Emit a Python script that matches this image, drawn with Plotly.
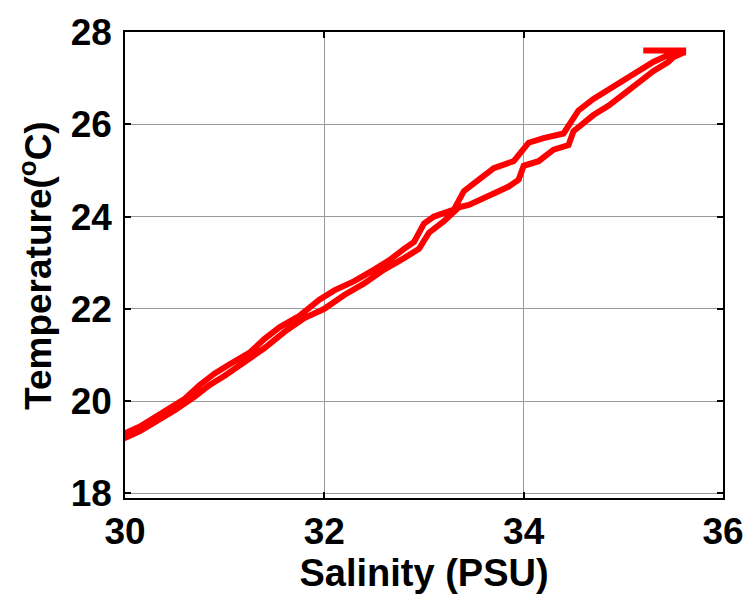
import plotly.graph_objects as go

# Upper (left) branch, bottom -> top
sal_up = [30.00, 30.15, 30.30, 30.45, 30.60, 30.75, 30.90, 31.05, 31.25, 31.40, 31.55, 31.75,
          31.95, 32.10, 32.30, 32.50, 32.65, 32.80, 32.90, 33.00, 33.10, 33.30, 33.40, 33.55,
          33.70, 33.90, 34.05, 34.20, 34.40, 34.55, 34.70, 34.85, 35.00, 35.15, 35.30, 35.45, 35.60]
temp_up = [19.30, 19.45, 19.65, 19.85, 20.05, 20.35, 20.60, 20.80, 21.05, 21.35, 21.60, 21.85,
           22.20, 22.40, 22.60, 22.85, 23.05, 23.30, 23.45, 23.85, 24.00, 24.15, 24.55, 24.80,
           25.05, 25.20, 25.60, 25.70, 25.80, 26.30, 26.55, 26.75, 26.95, 27.15, 27.35, 27.50, 27.55]

# Lower (right) branch, bottom -> top
sal_lo = [30.00, 30.15, 30.35, 30.50, 30.70, 30.85, 31.00, 31.20, 31.40, 31.60, 31.80, 32.00,
          32.20, 32.40, 32.60, 32.80, 32.95, 33.05, 33.20, 33.35, 33.45, 33.70, 33.85, 33.95,
          34.00, 34.15, 34.30, 34.45, 34.50, 34.70, 34.85, 35.00, 35.15, 35.30, 35.45, 35.50, 35.60]
temp_lo = [19.20, 19.35, 19.60, 19.80, 20.10, 20.35, 20.55, 20.85, 21.15, 21.50, 21.80, 22.00,
           22.30, 22.55, 22.85, 23.10, 23.30, 23.65, 23.90, 24.20, 24.25, 24.50, 24.65, 24.80,
           25.10, 25.20, 25.45, 25.55, 25.85, 26.20, 26.40, 26.65, 26.90, 27.15, 27.35, 27.45, 27.55]

# Surface mixed layer segment
sal_top = [35.20, 35.60]
temp_top = [27.60, 27.60]

x_ticks = [30, 32, 34, 36]
y_ticks = [18, 20, 22, 24, 26, 28]

sal = sal_top + sal_up[::-1] + sal_lo
temp = temp_top + temp_up[::-1] + temp_lo

fig = go.Figure()
fig.add_trace(go.Scatter(x=sal, y=temp, mode="lines",
                         line=dict(color="#FF0000", width=6, shape="linear"),
                         showlegend=False))

font_family = "Liberation Sans, Arial, sans-serif"
axis_common = dict(
    showline=True, linecolor="black", linewidth=1.5, mirror="ticks",
    ticks="inside", ticklen=6, tickwidth=1.5, tickcolor="black",
    showgrid=True, gridcolor="#9a9a9a", gridwidth=1,
    zeroline=False,
    tickfont=dict(family=font_family, size=37, color="black", weight="bold"),
)

fig.update_layout(
    width=756, height=597,
    margin=dict(l=125, r=27, t=22, b=99),
    paper_bgcolor="white", plot_bgcolor="white",
    xaxis=dict(range=[30, 36], tickvals=x_ticks, ticktext=[str(v) for v in x_ticks],
               ticklabelstandoff=0,
               title=dict(text="<b>Salinity (PSU)</b>", standoff=0,
                          font=dict(family=font_family, size=38, color="black")),
               **axis_common),
    yaxis=dict(range=[17.9, 28.0], tickvals=y_ticks, ticktext=[str(v) for v in y_ticks],
               ticklabelstandoff=4,
               **axis_common),
    annotations=[dict(text="<b>Temperature(<sup>o</sup>C)</b>", textangle=-90,
                      xref="paper", yref="paper", x=-0.149, y=0.5,
                      xanchor="center", yanchor="middle", showarrow=False,
                      font=dict(family=font_family, size=37, color="black"))],
)

fig.write_html("out.html")
